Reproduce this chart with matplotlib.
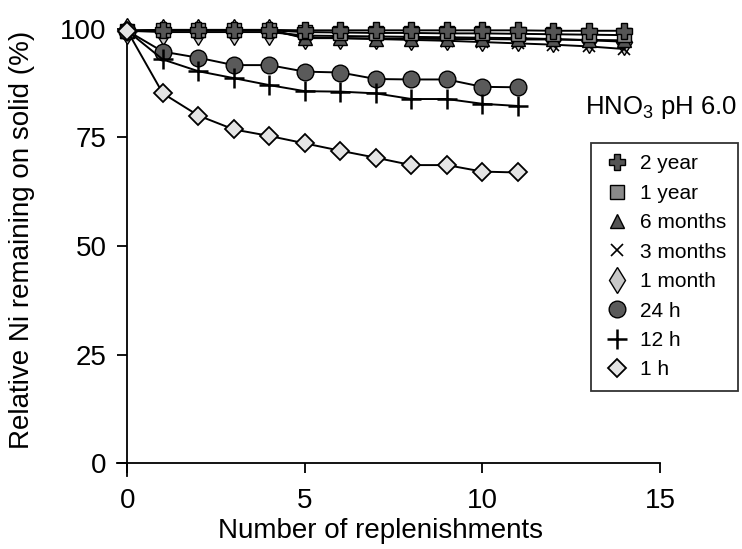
import matplotlib
matplotlib.use("Agg")
import matplotlib.pyplot as plt
from matplotlib.lines import Line2D

plt.rcParams['font.family'] = ['Liberation Sans', 'DejaVu Sans']
plt.rcParams['mathtext.fontset'] = 'custom'
plt.rcParams['mathtext.rm'] = 'Liberation Sans'
plt.rcParams['mathtext.it'] = 'Liberation Sans:italic'

# ---------------- data ----------------
x_long = list(range(0, 15))
x_short = list(range(0, 12))

y_2year = [99.5, 99.7, 99.7, 99.7, 99.7, 99.6, 99.6, 99.6, 99.6, 99.6, 99.6, 99.6, 99.5, 99.5, 99.5]
y_1year = [99.5, 99.6, 99.6, 99.6, 99.6, 99.2, 99.1, 99.0, 99.0, 98.9, 98.9, 98.8, 98.7, 98.6, 98.5]
y_6months = [99.5, 99.7, 99.7, 99.7, 99.7, 97.8, 97.8, 97.7, 97.7, 97.6, 97.6, 97.5, 97.5, 97.4, 97.3]
y_3months = [99.5, 99.6, 99.6, 99.6, 99.6, 98.0, 97.8, 97.6, 97.4, 97.2, 96.9, 96.6, 96.3, 95.9, 95.3]
y_1month = [99.5, 99.2, 99.2, 99.2, 99.2, 98.4, 98.3, 98.2, 98.1, 98.0, 97.9, 97.8, 97.6, 97.3, 97.0]
y_24h = [99.5, 94.7, 93.3, 91.6, 91.6, 90.1, 89.9, 88.4, 88.3, 88.3, 86.6, 86.5]
y_12h = [99.5, 92.9, 90.2, 88.6, 87.0, 85.6, 85.5, 85.1, 83.8, 83.8, 82.7, 82.2]
y_1h = [99.5, 85.1, 80.0, 76.8, 75.3, 73.6, 71.9, 70.3, 68.6, 68.6, 67.1, 66.9]

labels = ["2 year", "1 year", "6 months", "3 months", "1 month", "24 h", "12 h", "1 h"]
x_ticks = [0, 5, 10, 15]
y_ticks = [0, 25, 50, 75, 100]

# ---------------- styles ----------------
styles = {
    "2 year":   dict(marker='P', ms=12, mfc='#555555', mec='black', mew=1.0),
    "1 year":   dict(marker='s', ms=10, mfc='#8a8a8a', mec='black', mew=1.0),
    "6 months": dict(marker='^', ms=10, mfc='#555555', mec='black', mew=1.0),
    "3 months": dict(marker='x', ms=9, mfc='black', mec='black', mew=1.2),
    "1 month":  dict(marker='d', ms=13, mfc='#c8c8c8', mec='black', mew=1.0),
    "24 h":     dict(marker='o', ms=12, mfc='#5a5a5a', mec='black', mew=1.0),
    "12 h":     dict(marker='+', ms=14, mfc='black', mec='black', mew=1.8),
    "1 h":      dict(marker='D', ms=9, mfc='#e4e4e4', mec='black', mew=1.3),
}

W, H = 742, 549
fig = plt.figure(figsize=(W / 100, H / 100), dpi=100)

# axes placement (pixels): x 0->127.3, 15->660 ; y 0->463.3, 100->28.6
xlo, xhi = -0.5, 15.5
ylo, yhi = -4.0, 102.0
px_per_x = (660 - 127.3) / 15
px_per_y = (463.3 - 28.6) / 100
left_px = 127.3 + xlo * px_per_x
right_px = 127.3 + xhi * px_per_x
bot_px = 463.3 - ylo * px_per_y
top_px = 463.3 - yhi * px_per_y
ax = fig.add_axes([left_px / W, 1 - bot_px / H, (right_px - left_px) / W, (bot_px - top_px) / H])

series = [
    ("1 month", x_long, y_1month),
    ("3 months", x_long, y_3months),
    ("6 months", x_long, y_6months),
    ("1 year", x_long, y_1year),
    ("2 year", x_long, y_2year),
    ("24 h", x_short, y_24h),
    ("12 h", x_short, y_12h),
    ("1 h", x_short, y_1h),
]
for name, xs, ys in series:
    ax.plot(xs, ys, color='black', lw=1.4, clip_on=False, zorder=3, **styles[name])

ax.set_xlim(xlo, xhi)
ax.set_ylim(ylo, yhi)
ax.spines['top'].set_visible(False)
ax.spines['right'].set_visible(False)
ax.spines['left'].set_position(('data', 0))
ax.spines['bottom'].set_position(('data', 0))
ax.spines['left'].set_bounds(-3.0, 100)
ax.spines['bottom'].set_bounds(-0.3, 15)
for s in ('left', 'bottom'):
    ax.spines[s].set_linewidth(1.3)
ax.set_xticks(x_ticks)
ax.set_yticks(y_ticks)
ax.tick_params(axis='both', direction='out', length=7, width=1.3, labelsize=20)
ax.tick_params(axis='x', pad=11)
ax.tick_params(axis='y', pad=8)

fig.text(380 / W, 1 - 531 / H, "Number of replenishments", ha='center', va='center', fontsize=20)
fig.text(22 / W, 1 - 240 / H, "Relative Ni remaining on solid (%)", ha='center', va='center',
         rotation=90, fontsize=20)
fig.text(585 / W, 1 - 107 / H, r"HNO$_3$ pH 6.0", ha='left', va='center', fontsize=18.5)

handles = [Line2D([], [], ls='none', **styles[n]) for n in labels]
leg = fig.legend(handles, labels, loc='upper right', bbox_to_anchor=(738 / W, 1 - 143 / H),
                 fontsize=15, frameon=True, fancybox=False, shadow=False, borderaxespad=0,
                 labelspacing=0.5, handletextpad=0.4, borderpad=0.55, handlelength=1.4)
leg.get_frame().set_edgecolor('black')
leg.get_frame().set_linewidth(1.3)

fig.savefig("out.png", dpi=100)
